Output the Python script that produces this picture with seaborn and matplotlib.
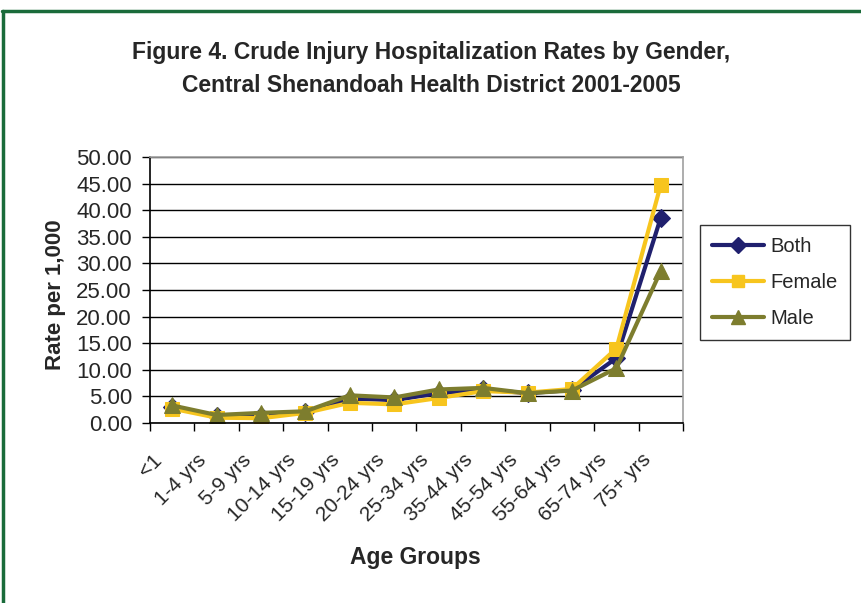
import pandas as pd
import seaborn as sns
import matplotlib.pyplot as plt
from matplotlib.lines import Line2D
from matplotlib.ticker import FixedLocator
from matplotlib.transforms import ScaledTranslation

age_groups = ['<1', '1-4 yrs', '5-9 yrs', '10-14 yrs', '15-19 yrs', '20-24 yrs',
              '25-34 yrs', '35-44 yrs', '45-54 yrs', '55-64 yrs', '65-74 yrs', '75+ yrs']
both = [3.1, 1.3, 1.4, 2.0, 4.6, 4.3, 5.6, 6.3, 5.6, 6.2, 12.2, 38.6]
female = [2.7, 1.0, 0.9, 1.9, 3.8, 3.5, 4.7, 6.0, 5.7, 6.4, 14.0, 44.8]
male = [3.3, 1.5, 1.9, 2.2, 5.2, 4.8, 6.3, 6.6, 5.6, 6.1, 10.3, 28.6]

df = pd.DataFrame({'pos': range(len(age_groups)), 'Both': both, 'Female': female, 'Male': male})
long = df.melt(id_vars='pos', var_name='series', value_name='rate')

colors = {'Both': '#20206e', 'Female': '#f7c51e', 'Male': '#7d7d2e'}
markers = {'Both': 'D', 'Female': 's', 'Male': '^'}
sizes = {'Both': 9, 'Female': 10, 'Male': 11}

sns.set_style('white')
plt.rcParams['font.family'] = ['Liberation Sans', 'DejaVu Sans']

fig = plt.figure(figsize=(8.62, 6.03), dpi=100)
ax = fig.add_axes([150 / 862, 1 - 423 / 603, 533 / 862, 266 / 603])

for name in ['Both', 'Female', 'Male']:
    sub = long[long['series'] == name]
    sns.lineplot(data=sub, x='pos', y='rate', ax=ax, color=colors[name], lw=3,
                 marker=markers[name], markersize=sizes[name], markeredgecolor=colors[name],
                 legend=False)

ax.set_xlim(-0.5, len(age_groups) - 0.5)
ax.set_ylim(0, 50)
ax.set_yticks(range(0, 51, 5))
ax.set_yticklabels([f'{v:.2f}' for v in range(0, 51, 5)], fontsize=16)
ax.yaxis.grid(True, color='black', lw=1)
ax.set_axisbelow(True)

ax.set_xticks(range(len(age_groups)))
ax.xaxis.set_minor_locator(FixedLocator([i - 0.5 for i in range(len(age_groups) + 1)]))
ax.tick_params(axis='x', which='major', length=0, pad=0)
ax.tick_params(axis='x', which='minor', length=6, width=1, color='black', direction='out', bottom=True)
ax.tick_params(axis='y', length=6, width=1, color='black', direction='out', left=True, pad=7)
ax.set_xticklabels(age_groups, rotation=45, ha='right', va='center', fontsize=15,
                   rotation_mode='anchor')
# shift the slanted labels down and left, like the original
shift = ScaledTranslation(-13 / 100, -34 / 100, fig.dpi_scale_trans)
for lab in ax.get_xticklabels():
    lab.set_transform(lab.get_transform() + shift)

for s in ['left', 'bottom']:
    ax.spines[s].set_color('black')
    ax.spines[s].set_linewidth(1.2)
for s in ['top', 'right']:
    ax.spines[s].set_color('#a0a0a0')
    ax.spines[s].set_linewidth(1.2)

ax.set_xlabel('Age Groups', fontsize=16.5, fontweight='bold')
ax.xaxis.set_label_coords(415 / 862, 1 - 546 / 603, transform=fig.transFigure)
ax.set_ylabel('Rate per 1,000', fontsize=16, fontweight='bold')
ax.yaxis.set_label_coords(66 / 862, 1 - 295 / 603, transform=fig.transFigure)

fig.text(0.5, 1 - 52 / 603, 'Figure 4. Crude Injury Hospitalization Rates by Gender,',
         ha='center', va='center', fontsize=16.5, fontweight='bold')
fig.text(0.5, 1 - 86 / 603, 'Central Shenandoah Health District 2001-2005',
         ha='center', va='center', fontsize=16.5, fontweight='bold')

handles = [Line2D([], [], color=colors[n], lw=3, marker=markers[n], markersize=sizes[n] - 1,
                  markeredgecolor=colors[n]) for n in ['Both', 'Female', 'Male']]
leg = fig.legend(handles, ['Both', 'Female', 'Male'], loc='upper left',
                 bbox_to_anchor=(700 / 862, 1 - 225 / 603), fontsize=14.5, frameon=True,
                 fancybox=False, edgecolor='black', handlelength=2.6, labelspacing=0.85,
                 borderpad=0.6, handletextpad=0.3, borderaxespad=0)
leg.get_frame().set_linewidth(1)

fig.add_artist(Line2D([3.5 / 862, 3.5 / 862], [0, 1 - 10.5 / 603], color='#1a6b3a', lw=2.5,
                      transform=fig.transFigure))
fig.add_artist(Line2D([2.5 / 862, 1], [1 - 10.5 / 603, 1 - 10.5 / 603], color='#1a6b3a', lw=2.5,
                      transform=fig.transFigure))

fig.savefig('out.png', dpi=100)
